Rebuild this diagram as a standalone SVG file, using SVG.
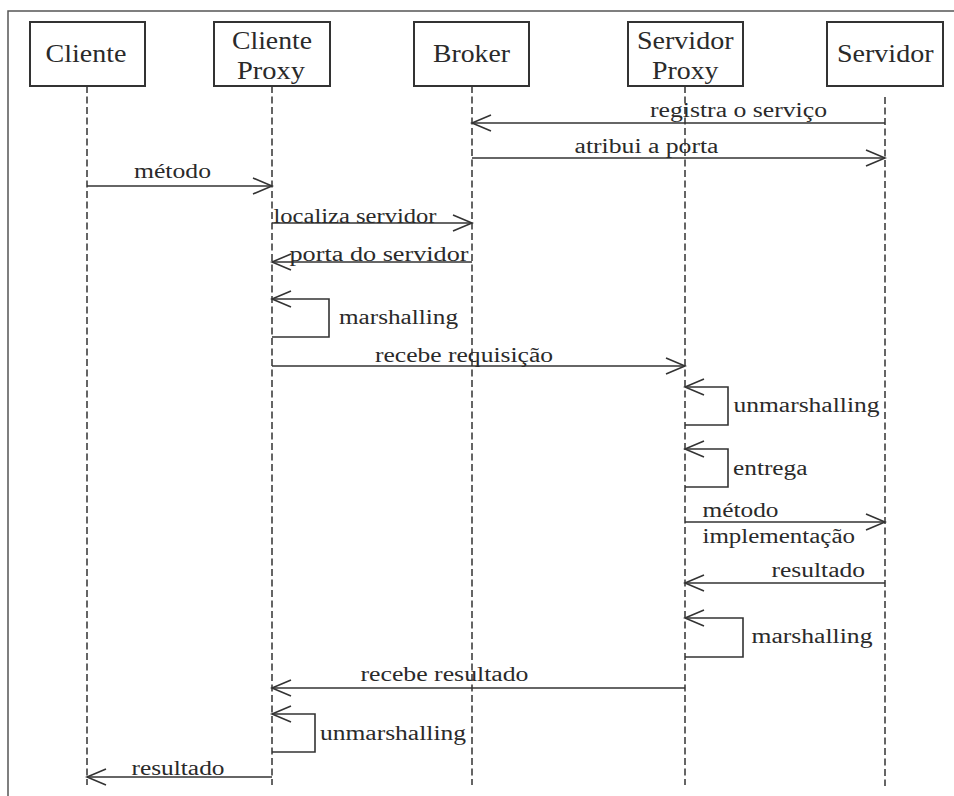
<svg xmlns="http://www.w3.org/2000/svg" width="954" height="796" viewBox="0 0 954 796">
  <defs>
    <style>
      .frame { fill: none; stroke: #555; stroke-width: 1.5; }
      .box { fill: #fff; stroke: #333; stroke-width: 2; }
      .life { fill: none; stroke: #333; stroke-width: 1.5; stroke-dasharray: 7 3.5; }
      .msg { fill: none; stroke: #333; stroke-width: 1.6; }
      .head { fill: none; stroke: #333; stroke-width: 1.6; }
      .title { font-size: 25px; fill: #2a2a2a; }
      .lbl { font-size: 20px; fill: #2a2a2a; }
    </style>
    <marker id="open" viewBox="-20 -9 22 18" refX="0" refY="0" markerWidth="22" markerHeight="18" markerUnits="userSpaceOnUse" orient="auto">
      <path class="head" d="M-19,-8 L0,0 L-19,8"/>
    </marker>
  </defs>

  <rect width="954" height="796" fill="#fff"/>

  <!-- outer frame (top and left edges) -->
  <path class="frame" d="M8,796 V11 H954"/>

  <g font-family="Liberation Serif, Times New Roman, serif">
  <!-- participants -->
  <g id="cliente">
    <rect class="box" x="30" y="22" width="115" height="64"/>
    <text class="title" x="45.5" y="61.5" textLength="81" lengthAdjust="spacingAndGlyphs">Cliente</text>
  </g>
  <g id="cliente-proxy">
    <rect class="box" x="214" y="22" width="116" height="64"/>
    <text class="title" x="232" y="48.5" textLength="80" lengthAdjust="spacingAndGlyphs">Cliente</text>
    <text class="title" x="237" y="79" textLength="68" lengthAdjust="spacingAndGlyphs">Proxy</text>
  </g>
  <g id="broker">
    <rect class="box" x="414" y="22" width="115" height="64"/>
    <text class="title" x="433" y="61.5" textLength="77" lengthAdjust="spacingAndGlyphs">Broker</text>
  </g>
  <g id="servidor-proxy">
    <rect class="box" x="628" y="22" width="115" height="64"/>
    <text class="title" x="637" y="48.5" textLength="96.5" lengthAdjust="spacingAndGlyphs">Servidor</text>
    <text class="title" x="652" y="79" textLength="66.5" lengthAdjust="spacingAndGlyphs">Proxy</text>
  </g>
  <g id="servidor">
    <rect class="box" x="827" y="22" width="116" height="64"/>
    <text class="title" x="837" y="61.5" textLength="96.5" lengthAdjust="spacingAndGlyphs">Servidor</text>
  </g>

  <!-- lifelines -->
  <g id="lifelines">
    <line class="life" x1="87" y1="86" x2="87" y2="785"/>
    <line class="life" x1="272" y1="86" x2="272" y2="785"/>
    <line class="life" x1="472" y1="86" x2="472" y2="785"/>
    <line class="life" x1="685" y1="86" x2="685" y2="785"/>
    <line class="life" x1="885" y1="97" x2="885" y2="786"/>
  </g>

  <!-- messages -->
  <g id="connectors">
    <path class="msg" d="M885,123 H472" marker-end="url(#open)"/>
    <path class="msg" d="M472,158 H885" marker-end="url(#open)"/>
    <path class="msg" d="M87,186 H272" marker-end="url(#open)"/>
    <path class="msg" d="M272,223 H472" marker-end="url(#open)"/>
    <path class="msg" d="M472,262 H272" marker-end="url(#open)"/>
    <path class="msg" d="M272,337 H329 V299 H272" marker-end="url(#open)"/>
    <path class="msg" d="M272,366 H685" marker-end="url(#open)"/>
    <path class="msg" d="M685,425 H728 V387 H685" marker-end="url(#open)"/>
    <path class="msg" d="M685,487 H728 V449 H685" marker-end="url(#open)"/>
    <path class="msg" d="M685,522 H885" marker-end="url(#open)"/>
    <path class="msg" d="M885,583 H685" marker-end="url(#open)"/>
    <path class="msg" d="M685,657 H743 V618 H685" marker-end="url(#open)"/>
    <path class="msg" d="M685,688 H272" marker-end="url(#open)"/>
    <path class="msg" d="M272,752 H315 V714 H272" marker-end="url(#open)"/>
    <path class="msg" d="M272,777 H87" marker-end="url(#open)"/>
  </g>

  <!-- message labels -->
  <g id="labels">
    <text class="lbl" x="650" y="116.5" textLength="177" lengthAdjust="spacingAndGlyphs">registra o serviço</text>
    <text class="lbl" x="574.5" y="153" textLength="144" lengthAdjust="spacingAndGlyphs">atribui a porta</text>
    <text class="lbl" x="134" y="178" textLength="77" lengthAdjust="spacingAndGlyphs">método</text>
    <text class="lbl" x="273.5" y="222.5" textLength="163" lengthAdjust="spacingAndGlyphs">localiza servidor</text>
    <text class="lbl" x="289.5" y="261" textLength="179" lengthAdjust="spacingAndGlyphs">porta do servidor</text>
    <text class="lbl" x="339" y="323.5" textLength="119" lengthAdjust="spacingAndGlyphs">marshalling</text>
    <text class="lbl" x="375" y="361.5" textLength="178" lengthAdjust="spacingAndGlyphs">recebe requisição</text>
    <text class="lbl" x="733.5" y="411.5" textLength="146" lengthAdjust="spacingAndGlyphs">unmarshalling</text>
    <text class="lbl" x="733" y="475" textLength="74.5" lengthAdjust="spacingAndGlyphs">entrega</text>
    <text class="lbl" x="702.5" y="516.5" textLength="76" lengthAdjust="spacingAndGlyphs">método</text>
    <text class="lbl" x="702.5" y="543" textLength="152.5" lengthAdjust="spacingAndGlyphs">implementação</text>
    <text class="lbl" x="771.5" y="576.5" textLength="93.5" lengthAdjust="spacingAndGlyphs">resultado</text>
    <text class="lbl" x="751.5" y="643" textLength="121" lengthAdjust="spacingAndGlyphs">marshalling</text>
    <text class="lbl" x="360.5" y="680.5" textLength="168" lengthAdjust="spacingAndGlyphs">recebe resultado</text>
    <text class="lbl" x="320" y="740" textLength="146" lengthAdjust="spacingAndGlyphs">unmarshalling</text>
    <text class="lbl" x="131.5" y="775" textLength="93" lengthAdjust="spacingAndGlyphs">resultado</text>
  </g>
  </g>
</svg>
